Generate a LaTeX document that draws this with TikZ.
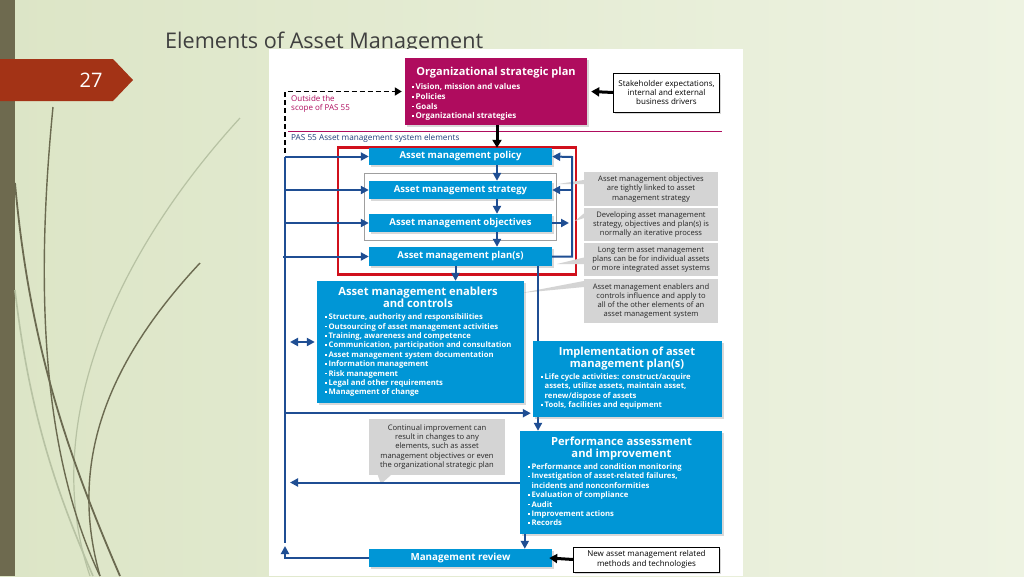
\documentclass[tikz,border=0pt]{standalone}
\usepackage{fontspec}
\setmainfont{Open Sans}
\usetikzlibrary{arrows.meta,shadows}
\definecolor{amblue}{HTML}{0096D6}
\definecolor{amline}{HTML}{1F4E93}
\definecolor{ammag}{HTML}{AF0C5E}
\definecolor{amred}{HTML}{D0101C}
\definecolor{amnote}{HTML}{D4D4D4}
\definecolor{pasblue}{HTML}{1F3D7A}
\definecolor{bgleft}{HTML}{DCE5C6}
\definecolor{bgright}{HTML}{EEF3E2}
\definecolor{stripe}{HTML}{6E6A4F}
\definecolor{banner}{HTML}{A33316}
\definecolor{leafdark}{HTML}{6B6A50}
\definecolor{leaflight}{HTML}{B7C2A3}
\definecolor{titlegray}{HTML}{3F3F3F}
\newcommand{\amsq}{\rule[0.22em]{1.7pt}{1.7pt}\hspace{1.7pt}}
\newcommand{\amind}{\hphantom{\amsq}}
\tikzstyle{bluebox}=[fill=amblue,text=white,inner sep=0pt,
                     font=\bfseries\fontsize{9.5}{11}\selectfont,
                     drop shadow={shadow xshift=1.5pt,shadow yshift=-1.5pt,opacity=0.3}]
\tikzstyle{magbox}=[fill=ammag,inner sep=0pt,
                    drop shadow={shadow xshift=1.5pt,shadow yshift=-1.5pt,opacity=0.3}]
\tikzstyle{boxtitle}=[text=white,inner sep=0pt,align=center,anchor=base,
                      font=\bfseries\fontsize{11.2}{11.2}\selectfont]
\tikzstyle{bullets}=[text=white,inner sep=0pt,align=left,anchor=base west,
                     font=\bfseries\fontsize{7.7}{9.4}\selectfont]
\tikzstyle{note}=[fill=amnote,text=black!85,inner sep=0pt,align=center,
                  font=\fontsize{7.6}{9.3}\selectfont]
\tikzstyle{whitebox}=[draw=black,fill=white,inner sep=0pt,align=center,
                      font=\fontsize{8}{9.4}\selectfont,
                      drop shadow={shadow xshift=1.5pt,shadow yshift=-1.5pt,opacity=0.3}]
\tikzstyle{flow}=[amline,line width=2pt,-{Triangle[width=8pt,length=8pt]}]
\tikzstyle{feed}=[amline,line width=2pt]
\tikzstyle{bigarrow}=[black,line width=3pt,-{Triangle[width=9pt,length=8pt]}]
\begin{document}
\begin{tikzpicture}[x=1pt,y=-1pt]
  \useasboundingbox (0,0) rectangle (1024,576);
  % slide background
  \shade[left color=bgleft,right color=bgright] (0,0) rectangle (1024,576);
  \fill[stripe] (0,0) rectangle (15,576);
  \draw[leaflight,line width=1.2pt] (240,118) .. controls (110,260) and (40,430) .. (90,576);
  \draw[leaflight,line width=1.6pt] (15,290) .. controls (30,420) and (60,500) .. (93,576);
  \draw[leafdark,line width=1.4pt] (53,107) .. controls (36,280) and (40,450) .. (100,576);
  \draw[leafdark,line width=1.8pt] (15,183) .. controls (30,350) and (70,460) .. (120,576);
  \draw[leafdark,line width=1.4pt] (200,263) .. controls (100,370) and (70,470) .. (100,576);
  \fill[banner] (0,59) -- (113,59) -- (133,80) -- (113,101) -- (0,101) -- cycle;
  \node (num) at (91,80.5) [text=white,font=\fontsize{20}{20}\selectfont]{27};
  \node (title) at (165,48) [anchor=base west,inner sep=0pt,text=titlegray,
        font=\fontsize{21.6}{22}\selectfont]{Elements of Asset Management};
  \fill[white] (269,49) rectangle (743,576);

  % scope line and frames
  \draw[ammag,line width=0.6pt] (288,131) -- (722,131);
  \node (outside) at (291,104) [anchor=west,inner sep=0pt,align=left,text=ammag,
        font=\fontsize{8}{9.5}\selectfont]{Outside the\\scope of PAS 55};
  \node (pas) at (291,140.5) [anchor=base west,inner sep=0pt,text=pasblue,
        font=\fontsize{8.2}{9}\selectfont]{PAS 55 Asset management system elements};
  \node (core) at (457,211) [draw=amred,line width=2.5pt,minimum width=238,minimum height=127]{};
  \node (loop) at (460,206.5) [draw=gray!75,line width=0.6pt,minimum width=192,minimum height=67]{};

  % grey notes
  \node (n1) at (651,189) [note,minimum width=134,minimum height=34]{Asset management objectives\\are tightly linked to asset\\management strategy};
  \node (n2) at (651,224.5) [note,minimum width=134,minimum height=33]{Developing asset management\\strategy, objectives and plan(s) is\\normally an iterative process};
  \node (n3) at (651,259.5) [note,minimum width=134,minimum height=33]{Long term asset management\\plans can be for individual assets\\or more integrated asset systems};
  \node (n4) at (651,301) [note,minimum width=134,minimum height=44]{Asset management enablers and\\controls influence and apply to\\all of the other elements of an\\asset management system};
  \node (ci) at (437,447) [note,minimum width=136,minimum height=56]{Continual improvement can\\result in changes to any\\elements, such as asset\\management objectives or even\\the organizational strategic plan};
  \fill[amnote] (n1.west) ++(0,-9) -- (558,184) -- ++(26,0) -- cycle;
  \fill[amnote] (n2.west) ++(0,-11) -- (575,221) -- ++(9,-3) -- cycle;
  \fill[amnote] (n3.west) ++(0,-2) -- (557,264) -- ++(27,0) -- cycle;
  \fill[amnote] (n4.west) ++(0,-20) -- (521,293) -- ++(63,-6) -- cycle;
  \fill[amnote] (ci.south west) ++(9,0) -- (381,484) -- ++(10,-9) -- cycle;

  % top boxes
  \node (osp) at (496,91.5) [magbox,minimum width=182,minimum height=67]{};
  \node (osptitle) at (496,75) [boxtitle,font=\bfseries\fontsize{11}{11}\selectfont]{Organizational strategic plan};
  \node (osplist) at (412,118.7) [bullets,font=\bfseries\fontsize{8}{9.7}\selectfont]{%
    \amsq Vision, mission and values\\\amsq Policies\\\amsq Goals\\\amsq Organizational strategies};
  \node (stake) at (666.5,92.5) [whitebox,minimum width=106,minimum height=39]{Stakeholder expectations,\\internal and external\\business drivers};
  \node (newtech) at (646.5,559.5) [whitebox,minimum width=146,minimum height=25]{New asset management related\\methods and technologies};

  % left bus and loops
  \coordinate (bus) at (285,157);
  \coordinate (busend) at (285,543);
  \coordinate (fb) at (572,157);
  \coordinate (mid) at (497,0);
  \coordinate (drop) at (538,0);
  \draw[feed] (bus) -- (busend);
  \draw[black,line width=1.8pt,dash pattern=on 5pt off 3pt,-{Triangle[width=8pt,length=7pt]}]
       (285,153) |- ([xshift=-3pt]osp.west);

  % element boxes
  \node (policy) at (460.5,156.5) [bluebox,minimum width=183,minimum height=17]{Asset management policy};
  \node (strategy) at (460.5,190) [bluebox,minimum width=183,minimum height=18]{Asset management strategy};
  \node (objectives) at (460.5,223) [bluebox,minimum width=183,minimum height=18]{Asset management objectives};
  \node (plans) at (460.5,256.5) [bluebox,minimum width=183,minimum height=19]{Asset management plan(s)};

  \draw[flow] (bus |- policy.west) -- (policy.west);
  \draw[flow] (bus |- strategy.west) -- (strategy.west);
  \draw[flow] (bus |- objectives.west) -- (objectives.west);
  \draw[flow] ([xshift=-2pt]bus |- plans.west) -- (plans.west);
  \draw[flow] (plans.east) -| (fb) -- (policy.east);
  \draw[flow] (fb |- strategy.east) -- (strategy.east);
  \draw[flow] (objectives.east) -- ([xshift=-3pt]fb |- objectives.east);
  \draw[flow] (policy.south -| mid) -- (strategy.north -| mid);
  \draw[flow] (strategy.south -| mid) -- (objectives.north -| mid);
  \draw[flow] (objectives.south -| mid) -- (plans.north -| mid);
  \draw[bigarrow] (osp.south -| mid) -- (policy.north -| mid);
  \draw[bigarrow] (stake.west) -- ([xshift=4pt]osp.east);

  % lower boxes
  \node (enablers) at (420.5,342) [bluebox,minimum width=207,minimum height=122]{};
  \node (perform) at (621,482.5) [bluebox,minimum width=202,minimum height=103]{};
  \node (review) at (460.5,558) [bluebox,font=\bfseries\fontsize{9.8}{11}\selectfont,minimum width=183,minimum height=18]{Management review};
  \draw[flow] ([xshift=-5pt]plans.south) -- ([xshift=-5pt]plans.south |- enablers.north);
  \draw[flow] (plans.south -| drop) -- (drop |- perform.north);
  \node (implement) at (627.5,379) [bluebox,minimum width=189,minimum height=76]{};
  \draw[flow,{Triangle[width=8pt,length=8pt]}-{Triangle[width=8pt,length=8pt]}]
       ([xshift=5pt]bus |- enablers.west) -- ([xshift=-2pt]enablers.west);
  \draw[flow] (bus |- implement.south west) ++(0,-4) -- ([yshift=4pt,xshift=-2pt]implement.south west);
  \draw[flow] (perform.west) -- ([xshift=5pt]bus |- perform.west);
  \draw[flow] ([xshift=5pt]perform.south west) -- ([xshift=5pt]perform.south west |- review.north);
  \draw[flow] (review.west) -| ([yshift=-3pt]busend);
  \draw[bigarrow] (newtech.west) -- ([xshift=-3pt]review.east);

  % texts of the large boxes
  \node (entitle) at (418,307) [boxtitle]{Asset management enablers\\and controls};
  \node (enlist) at (325,394.8) [bullets]{%
    \amsq Structure, authority and responsibilities\\
    \amsq Outsourcing of asset management activities\\
    \amsq Training, awareness and competence\\
    \amsq Communication, participation and consultation\\
    \amsq Asset management system documentation\\
    \amsq Information management\\
    \amsq Risk management\\
    \amsq Legal and other requirements\\
    \amsq Management of change};
  \node (imtitle) at (627,367.8) [boxtitle,font=\bfseries\fontsize{11.1}{12}\selectfont]{Implementation of asset\\management plan(s)};
  \node (imlist) at (541,407.5) [bullets,font=\bfseries\fontsize{7.7}{9.3}\selectfont]{%
    \amsq Life cycle activities: construct/acquire\\
    \amind assets, utilize assets, maintain asset,\\
    \amind renew/dispose of assets\\
    \amsq Tools, facilities and equipment};
  \node (pftitle) at (621.5,457) [boxtitle,font=\bfseries\fontsize{11.2}{12}\selectfont]{Performance assessment\\and improvement};
  \node (pflist) at (528,525.7) [bullets,font=\bfseries\fontsize{7.7}{9.35}\selectfont]{%
    \amsq Performance and condition monitoring\\
    \amsq Investigation of asset-related failures,\\
    \amind incidents and nonconformities\\
    \amsq Evaluation of compliance\\
    \amsq Audit\\
    \amsq Improvement actions\\
    \amsq Records};
\end{tikzpicture}
\end{document}
